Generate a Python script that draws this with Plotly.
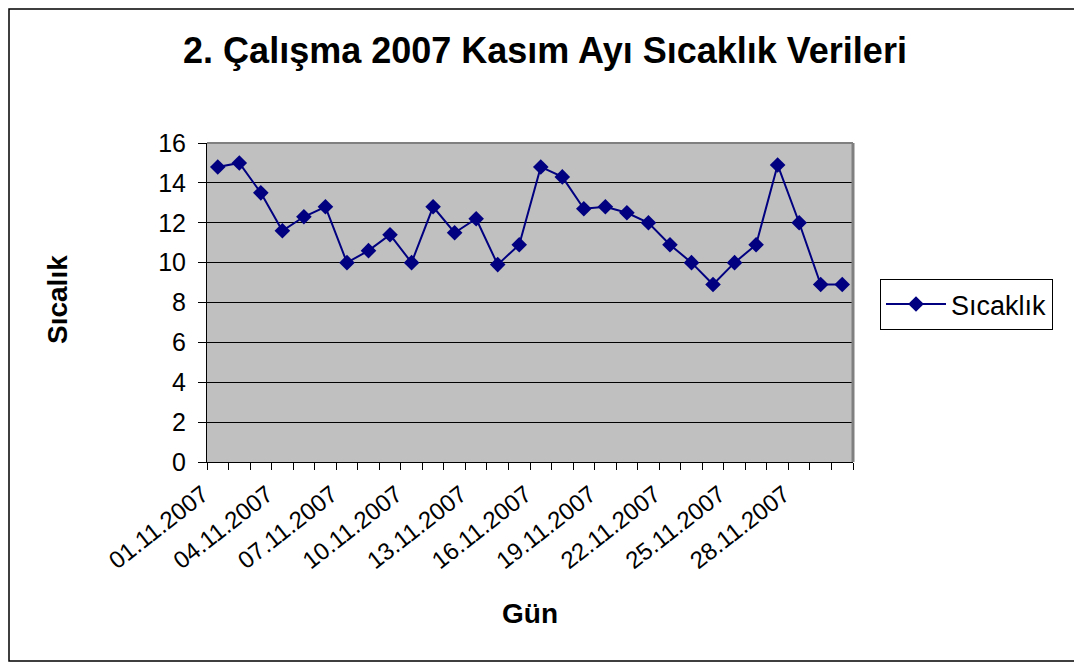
import plotly.graph_objects as go

dates = [f"{d:02d}.11.2007" for d in range(1, 31)]
temps = [14.8, 15.0, 13.5, 11.6, 12.3, 12.8, 10.0, 10.6, 11.4, 10.0,
         12.8, 11.5, 12.2, 9.9, 10.9, 14.8, 14.3, 12.7, 12.8, 12.5,
         12.0, 10.9, 10.0, 8.9, 10.0, 10.9, 14.9, 12.0, 8.9, 8.9]
series_name = "Sıcaklık"
title_text = "2. Çalışma 2007 Kasım Ayı Sıcaklık Verileri"
y_title = "Sıcalık"
x_title = "Gün"

xpos = list(range(1, len(dates) + 1))
label_idx = list(range(0, len(dates), 3))

OFF = 8  # page offset of the figure
W, H = 1082 - 2 * OFF, 670 - 2 * OFF
# target plot area in page pixels
L, R, T, B = 207, 853, 143, 462
pw, ph = R - L, B - T

def px(x):
    return (x - L) / pw

def py(y):
    return (B - y) / ph

font = "Liberation Sans, Arial, sans-serif"

fig = go.Figure()
fig.add_trace(go.Scatter(
    x=xpos, y=temps, mode="lines+markers", name=series_name,
    line=dict(color="#000080", width=2),
    marker=dict(symbol="diamond", size=12, color="#000080"),
))

fig.update_layout(
    width=W, height=H,
    margin=dict(l=L - OFF, r=W - (R - OFF), t=T - OFF, b=H - (B - OFF), pad=0),
    paper_bgcolor="white", plot_bgcolor="#C0C0C0",
    font=dict(family=font, color="black", size=24),
    title=dict(text=f"<b>{title_text}</b>", x=px(545), xref="paper", xanchor="center",
               y=1 - (50 - OFF) / H, yanchor="middle", font=dict(size=36)),
    showlegend=True,
    legend=dict(x=px(880), y=py(279), xanchor="left", yanchor="top",
                bgcolor="white", bordercolor="black", borderwidth=1,
                font=dict(size=27), itemwidth=60),
    xaxis=dict(range=[0.5, len(dates) + 0.5], tickmode="array",
               tickvals=[xpos[i] for i in label_idx],
               ticktext=[dates[i] for i in label_idx],
               tickangle=-38, ticks="", showgrid=False, zeroline=False,
               showline=True, linecolor="black", linewidth=1,
               tickfont=dict(size=24), ticklabelstandoff=8, ticklabelshift=-15,
               minor=dict(tickmode="array",
                          tickvals=[i + 0.5 for i in range(0, len(dates) + 1)],
                          ticks="outside", ticklen=7, tickcolor="black", tickwidth=1,
                          showgrid=False)),
    yaxis=dict(range=[0, 16], dtick=2, ticks="outside", ticklen=8,
               tickcolor="black", showgrid=True, gridcolor="black", gridwidth=1,
               zeroline=False, showline=True, linecolor="black", linewidth=1,
               tickfont=dict(size=25), ticklabelstandoff=7),
    shapes=[
        dict(type="line", xref="paper", yref="paper", x0=0, x1=1, y0=1, y1=1,
             line=dict(color="#808080", width=2)),
        dict(type="line", xref="paper", yref="paper", x0=1, x1=1, y0=0, y1=1,
             line=dict(color="#808080", width=3)),
        dict(type="rect", xref="paper", yref="paper",
             x0=px(OFF + 1), x1=px(1100), y0=py(OFF + H - 1), y1=py(OFF + 1),
             line=dict(color="black", width=1.5)),
    ],
    annotations=[
        dict(text=f"<b>{y_title}</b>", x=px(57), y=py(300), xref="paper", yref="paper",
             textangle=-90, showarrow=False, font=dict(size=28),
             xanchor="center", yanchor="middle"),
        dict(text=f"<b>{x_title}</b>", x=px(530), y=py(613), xref="paper", yref="paper",
             showarrow=False, font=dict(size=28), xanchor="center", yanchor="middle"),
    ],
)

fig.write_html("out.html")
